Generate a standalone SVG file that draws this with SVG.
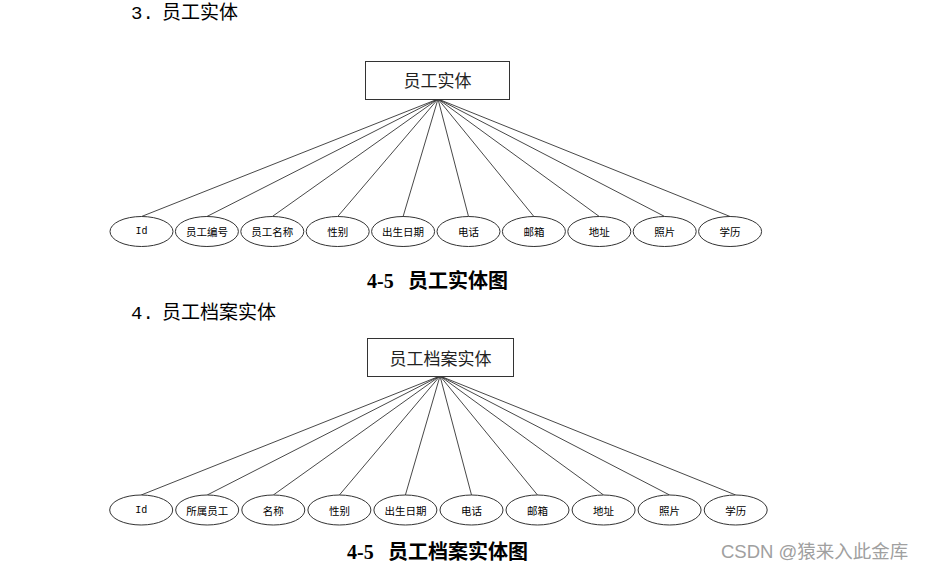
<svg xmlns="http://www.w3.org/2000/svg" width="928" height="572" viewBox="0 0 928 572">
<style>
.bg{fill:#fff}
.box{fill:#fff;stroke:#333;stroke-width:1}
.ell{fill:#fff;stroke:#333;stroke-width:1}
.ln{stroke:#333;stroke-width:0.9;fill:none}
.h{font-family:"Liberation Mono","Noto Sans CJK SC",monospace;font-size:19px;fill:#000}
.cap{font-family:"Liberation Serif","Noto Sans CJK SC",serif;font-size:20px;font-weight:bold;fill:#000}
.bt{font-family:"Noto Sans CJK SC",sans-serif;font-size:17px;fill:#222;text-anchor:middle;dominant-baseline:central}
.et{font-family:"Noto Sans CJK SC",sans-serif;font-size:10.5px;fill:#000;text-anchor:middle;dominant-baseline:central}
.etm{font-family:"Liberation Mono",monospace;font-size:10px;fill:#000;text-anchor:middle;dominant-baseline:central}
.wm{font-family:"Liberation Sans","Noto Sans CJK SC",sans-serif;font-size:18.5px;fill:#a0a0a0}
</style>
<rect class="bg" x="0" y="0" width="928" height="572"/>
<text class="h" x="131" y="19">3.</text>
<text class="h" x="162" y="19">员工实体</text>
<text class="h" x="131" y="319">4.</text>
<text class="h" x="162" y="319">员工档案实体</text>

<g id="connectors1">
<line class="ln" x1="438" y1="99" x2="141.5" y2="216.5"/>
<line class="ln" x1="438" y1="99" x2="206.9" y2="216.5"/>
<line class="ln" x1="438" y1="99" x2="272.3" y2="216.5"/>
<line class="ln" x1="438" y1="99" x2="337.7" y2="216.5"/>
<line class="ln" x1="438" y1="99" x2="403.1" y2="216.5"/>
<line class="ln" x1="438" y1="99" x2="468.5" y2="216.5"/>
<line class="ln" x1="438" y1="99" x2="533.9" y2="216.5"/>
<line class="ln" x1="438" y1="99" x2="599.3" y2="216.5"/>
<line class="ln" x1="438" y1="99" x2="664.7" y2="216.5"/>
<line class="ln" x1="438" y1="99" x2="730.1" y2="216.5"/>
</g>
<g id="entity1"><rect class="box" x="365.5" y="61.5" width="144" height="38"/><text class="bt" x="437.5" y="79">员工实体</text></g>
<g id="a1-id"><ellipse class="ell" cx="141.5" cy="231.5" rx="31.5" ry="15"/><text class="etm" x="141.5" y="231.5">Id</text></g>
<g id="a1-no"><ellipse class="ell" cx="206.9" cy="231.5" rx="31.5" ry="15"/><text class="et" x="206.9" y="231.5">员工编号</text></g>
<g id="a1-name"><ellipse class="ell" cx="272.3" cy="231.5" rx="31.5" ry="15"/><text class="et" x="272.3" y="231.5">员工名称</text></g>
<g id="a1-sex"><ellipse class="ell" cx="337.7" cy="231.5" rx="31.5" ry="15"/><text class="et" x="337.7" y="231.5">性别</text></g>
<g id="a1-birth"><ellipse class="ell" cx="403.1" cy="231.5" rx="31.5" ry="15"/><text class="et" x="403.1" y="231.5">出生日期</text></g>
<g id="a1-tel"><ellipse class="ell" cx="468.5" cy="231.5" rx="31.5" ry="15"/><text class="et" x="468.5" y="231.5">电话</text></g>
<g id="a1-mail"><ellipse class="ell" cx="533.9" cy="231.5" rx="31.5" ry="15"/><text class="et" x="533.9" y="231.5">邮箱</text></g>
<g id="a1-addr"><ellipse class="ell" cx="599.3" cy="231.5" rx="31.5" ry="15"/><text class="et" x="599.3" y="231.5">地址</text></g>
<g id="a1-photo"><ellipse class="ell" cx="664.7" cy="231.5" rx="31.5" ry="15"/><text class="et" x="664.7" y="231.5">照片</text></g>
<g id="a1-edu"><ellipse class="ell" cx="730.1" cy="231.5" rx="31.5" ry="15"/><text class="et" x="730.1" y="231.5">学历</text></g>
<text class="cap" x="367" y="288">4-5</text>
<text class="cap" x="408" y="288">员工实体图</text>

<g id="connectors2">
<line class="ln" x1="440" y1="376" x2="141.2" y2="495"/>
<line class="ln" x1="440" y1="376" x2="207.2" y2="495"/>
<line class="ln" x1="440" y1="376" x2="273.3" y2="495"/>
<line class="ln" x1="440" y1="376" x2="339.4" y2="495"/>
<line class="ln" x1="440" y1="376" x2="405.4" y2="495"/>
<line class="ln" x1="440" y1="376" x2="471.5" y2="495"/>
<line class="ln" x1="440" y1="376" x2="537.5" y2="495"/>
<line class="ln" x1="440" y1="376" x2="603.6" y2="495"/>
<line class="ln" x1="440" y1="376" x2="669.6" y2="495"/>
<line class="ln" x1="440" y1="376" x2="735.7" y2="495"/>
</g>
<g id="entity2"><rect class="box" x="367.5" y="338.5" width="146" height="38"/><text class="bt" x="440.5" y="357">员工档案实体</text></g>
<g id="a2-id"><ellipse class="ell" cx="141.2" cy="510" rx="31.5" ry="15"/><text class="etm" x="141.2" y="510">Id</text></g>
<g id="a2-owner"><ellipse class="ell" cx="207.2" cy="510" rx="31.5" ry="15"/><text class="et" x="207.2" y="510">所属员工</text></g>
<g id="a2-name"><ellipse class="ell" cx="273.3" cy="510" rx="31.5" ry="15"/><text class="et" x="273.3" y="510">名称</text></g>
<g id="a2-sex"><ellipse class="ell" cx="339.4" cy="510" rx="31.5" ry="15"/><text class="et" x="339.4" y="510">性别</text></g>
<g id="a2-birth"><ellipse class="ell" cx="405.4" cy="510" rx="31.5" ry="15"/><text class="et" x="405.4" y="510">出生日期</text></g>
<g id="a2-tel"><ellipse class="ell" cx="471.5" cy="510" rx="31.5" ry="15"/><text class="et" x="471.5" y="510">电话</text></g>
<g id="a2-mail"><ellipse class="ell" cx="537.5" cy="510" rx="31.5" ry="15"/><text class="et" x="537.5" y="510">邮箱</text></g>
<g id="a2-addr"><ellipse class="ell" cx="603.6" cy="510" rx="31.5" ry="15"/><text class="et" x="603.6" y="510">地址</text></g>
<g id="a2-photo"><ellipse class="ell" cx="669.6" cy="510" rx="31.5" ry="15"/><text class="et" x="669.6" y="510">照片</text></g>
<g id="a2-edu"><ellipse class="ell" cx="735.7" cy="510" rx="31.5" ry="15"/><text class="et" x="735.7" y="510">学历</text></g>
<text class="cap" x="347" y="559">4-5</text>
<text class="cap" x="388" y="559">员工档案实体图</text>

<text class="wm" x="721" y="558">CSDN @猿来入此金库</text>
</svg>
